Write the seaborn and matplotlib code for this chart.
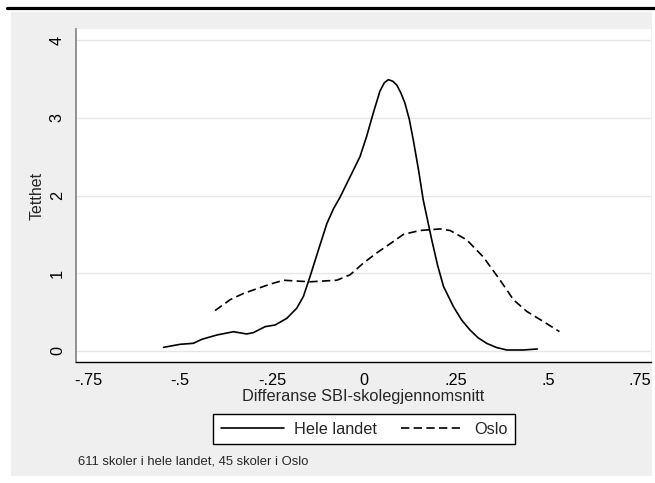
import numpy as np
import pandas as pd
import matplotlib
matplotlib.use("Agg")
import matplotlib.pyplot as plt
import seaborn as sns
from matplotlib.patches import Rectangle
from matplotlib.lines import Line2D

# ---- data ----
hele_x = [-0.545, -0.50, -0.464, -0.441, -0.40, -0.355, -0.319, -0.301, -0.269, -0.242,
          -0.21, -0.183, -0.165, -0.147, -0.124, -0.101, -0.083, -0.065, -0.038, -0.011,
          0.007, 0.025, 0.043, 0.055, 0.066, 0.078, 0.089, 0.100, 0.111, 0.123,
          0.134, 0.148, 0.161, 0.184, 0.200, 0.216, 0.243, 0.265, 0.288, 0.310,
          0.333, 0.360, 0.388, 0.433, 0.471]
hele_y = [0.047, 0.086, 0.099, 0.15, 0.206, 0.248, 0.219, 0.236, 0.313, 0.334,
          0.42, 0.55, 0.70, 0.955, 1.30, 1.64, 1.83, 1.98, 2.24, 2.50,
          2.76, 3.06, 3.34, 3.45, 3.49, 3.47, 3.42, 3.32, 3.19, 2.98,
          2.71, 2.33, 1.94, 1.43, 1.10, 0.83, 0.57, 0.40, 0.27, 0.17,
          0.099, 0.045, 0.013, 0.013, 0.026]
oslo_x = [-0.405, -0.364, -0.328, -0.292, -0.255, -0.219, -0.183, -0.147, -0.111, -0.074,
          -0.038, -0.002, 0.034, 0.071, 0.107, 0.152, 0.207, 0.234, 0.279, 0.324,
          0.370, 0.406, 0.442, 0.487, 0.531]
oslo_y = [0.52, 0.66, 0.74, 0.80, 0.86, 0.91, 0.90, 0.89, 0.90, 0.91,
          0.98, 1.13, 1.26, 1.38, 1.50, 1.55, 1.57, 1.55, 1.43, 1.21,
          0.91, 0.66, 0.51, 0.38, 0.25]
series_names = ["Hele landet", "Oslo"]
x_ticks = [-0.75, -0.5, -0.25, 0, 0.25, 0.5, 0.75]
x_tick_labels = ["-.75", "-.5", "-.25", "0", ".25", ".5", ".75"]
y_ticks = [0, 1, 2, 3, 4]
y_tick_labels = ["0", "1", "2", "3", "4"]
x_label = "Differanse SBI-skolegjennomsnitt"
y_label = "Tetthet"
note = "611 skoler i hele landet, 45 skoler i Oslo"

df = pd.concat([
    pd.DataFrame({"x": hele_x, "y": hele_y, "grp": series_names[0]}),
    pd.DataFrame({"x": oslo_x, "y": oslo_y, "grp": series_names[1]}),
], ignore_index=True)

sns.set_style("white")
plt.rcParams["font.family"] = ["Liberation Sans", "DejaVu Sans"]

W, H = 655, 483
fig = plt.figure(figsize=(W / 100, H / 100), dpi=100)
fig.patch.set_facecolor("white")

# grey graph region + top rule
fig.add_artist(Rectangle((11 / W, 1 - 476 / H), (652 - 11) / W, (476 - 12) / H,
                         transform=fig.transFigure, facecolor="#efefef",
                         edgecolor="none", zorder=0))
fig.add_artist(Line2D([7 / W, 1.0], [1 - 8 / H, 1 - 8 / H], transform=fig.transFigure,
                      color="black", lw=2.3, zorder=1))

ax = fig.add_axes([76 / W, 1 - 362 / H, (651 - 76) / W, (362 - 29) / H])
ax.set_facecolor("white")

sns.lineplot(data=df, x="x", y="y", style="grp", color="black",
             dashes={"Hele landet": "", "Oslo": (5, 2.6)},
             sort=False, estimator=None, lw=1.2, ax=ax)
for ln in ax.lines:
    ln.set_solid_joinstyle("round")
    ln.set_dash_joinstyle("round")

ax.set_xlim(-0.783, 0.78)
ax.set_ylim(-0.1415, 4.1415)
ax.set_xticks(x_ticks)
ax.set_xticklabels(x_tick_labels)
ax.set_yticks(y_ticks)
ax.set_yticklabels(y_tick_labels, rotation=90, va="center")

ax.yaxis.grid(True, color="#e6e6e6", lw=1.0)
ax.xaxis.grid(False)
ax.set_axisbelow(True)

for s in ["top", "right"]:
    ax.spines[s].set_visible(False)
ax.spines["left"].set_color("#808080")
ax.spines["left"].set_linewidth(1.2)
ax.spines["bottom"].set_color("black")
ax.spines["bottom"].set_linewidth(1.0)

ax.tick_params(axis="both", direction="out", length=5, width=0.8, color="#666666",
               labelsize=11.7, labelcolor="black")
ax.tick_params(axis="x", pad=3)
ax.tick_params(axis="y", pad=3)

ax.set_xlabel(x_label, fontsize=11.8, labelpad=1)
ax.set_ylabel(y_label, fontsize=11.5, labelpad=4)

handles, labels = ax.get_legend_handles_labels()
if ax.get_legend() is not None:
    ax.get_legend().remove()
leg = fig.legend(handles, labels, loc="center", bbox_to_anchor=(364 / W, 1 - 429 / H),
                 ncol=2, frameon=True, fancybox=False, framealpha=1,
                 facecolor="white", edgecolor="black", fontsize=11.7,
                 handlelength=3.9, handletextpad=0.6, columnspacing=1.5,
                 borderpad=0.45)
leg.get_frame().set_linewidth(1.0)

fig.text(78 / W, 1 - 461 / H, note, fontsize=9.4, ha="left", va="center")

fig.savefig("out.png", dpi=100)
